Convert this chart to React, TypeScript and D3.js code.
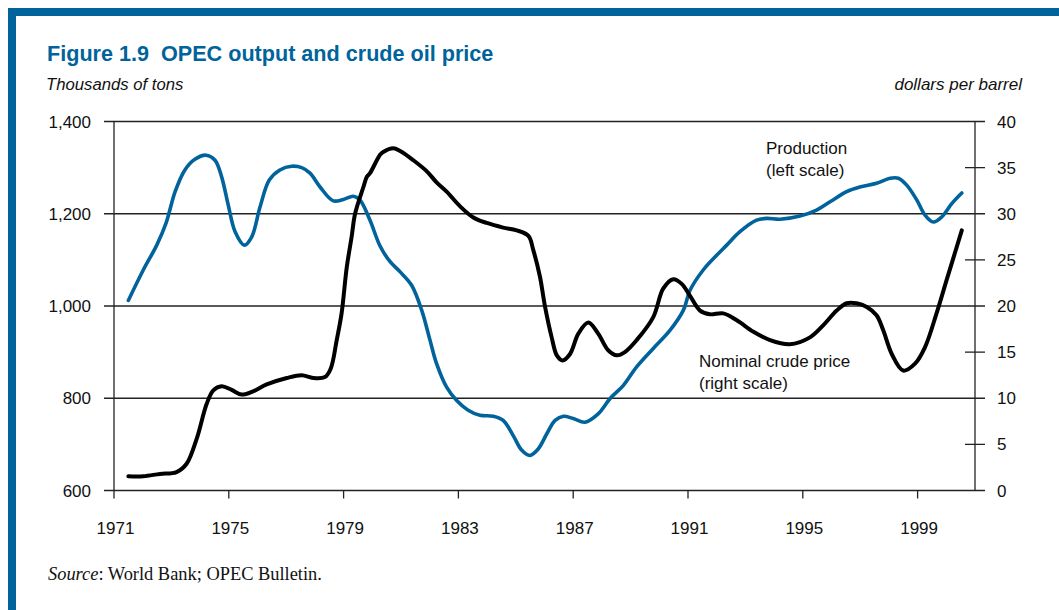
import React, { useEffect, useRef } from "react";
import * as d3 from "d3";

// OPEC production (thousands of tons), left scale
const prodYears = [
  1971.5, 1972.02, 1972.49, 1972.81, 1973.13, 1973.47, 1973.82, 1974.21, 1974.52, 1974.75,
  1974.98, 1975.22, 1975.54, 1975.8, 1976.09, 1976.41, 1976.78, 1977.19, 1977.54, 1977.83,
  1978.18, 1978.64, 1978.99, 1979.34, 1979.57, 1979.92, 1980.27, 1980.62, 1980.97, 1981.37,
  1981.72, 1982.01, 1982.24, 1982.59, 1982.94, 1983.34, 1983.75, 1984.22, 1984.56, 1984.91,
  1985.21, 1985.49, 1985.78, 1986.08, 1986.37, 1986.66, 1987.0, 1987.41, 1987.87, 1988.28,
  1988.75, 1989.21, 1989.79, 1990.37, 1990.84, 1991.07, 1991.53, 1992.0, 1992.35, 1992.81,
  1993.39, 1993.74, 1994.21, 1994.9, 1995.48, 1995.95, 1996.53, 1996.99, 1997.57, 1998.04,
  1998.33, 1998.62, 1998.97, 1999.26, 1999.55, 1999.84, 2000.19, 2000.54,
];
const production = [
  1012, 1078, 1132, 1179, 1248, 1295, 1318, 1327, 1316, 1280,
  1219, 1161, 1132, 1150, 1215, 1273, 1295, 1303, 1300, 1288,
  1258, 1228, 1231, 1238, 1230, 1186, 1130, 1096, 1074, 1045,
  991, 926, 875, 824, 795, 774, 763, 761, 752, 719,
  687, 676, 690, 723, 752, 761, 756, 748, 766, 799,
  828, 868, 908, 947, 991, 1034, 1078, 1110, 1132, 1161,
  1186, 1190, 1188, 1195, 1208, 1226, 1248, 1258, 1266, 1277,
  1277, 1262, 1230, 1197, 1182, 1193, 1222, 1245,
];

// Nominal crude price (dollars per barrel), right scale
const priceYears = [
  1971.5, 1972.02, 1972.6, 1973.18, 1973.53, 1973.88, 1974.23, 1974.46, 1974.75, 1975.1,
  1975.45, 1975.85, 1976.32, 1977.02, 1977.54, 1977.94, 1978.35, 1978.55, 1978.76, 1978.93,
  1979.11, 1979.28, 1979.4, 1979.69, 1979.81, 1979.92, 1980.27, 1980.38, 1980.73, 1980.97,
  1981.43, 1981.9, 1982.24, 1982.59, 1983.06, 1983.52, 1983.99, 1984.56, 1985.03, 1985.44,
  1985.61, 1985.84, 1986.02, 1986.25, 1986.43, 1986.63, 1986.89, 1987.18, 1987.53, 1987.87,
  1988.22, 1988.52, 1988.8, 1989.21, 1989.79, 1990.14, 1990.49, 1990.78, 1991.07, 1991.42,
  1991.76, 1992.23, 1992.7, 1993.28, 1993.86, 1994.55, 1995.25, 1995.71, 1996.18, 1996.53,
  1996.87, 1997.23, 1997.57, 1997.8, 1998.1, 1998.5, 1998.91, 1999.26, 1999.66, 2000.01,
  2000.54,
];
const price = [
  1.55, 1.55, 1.8, 2.0, 2.9, 5.6, 9.4, 10.85, 11.3, 10.9,
  10.4, 10.75, 11.5, 12.2, 12.5, 12.2, 12.3, 13.2, 16.3, 19.2,
  24.2, 27.5, 30.0, 32.9, 34.0, 34.4, 36.4, 36.7, 37.1, 36.8,
  35.8, 34.6, 33.4, 32.4, 30.8, 29.6, 29.0, 28.5, 28.2, 27.6,
  26.05, 23.2, 19.9, 16.6, 14.65, 14.1, 14.8, 17.0, 18.2, 17.0,
  15.2, 14.65, 15.0, 16.3, 18.8, 21.9, 22.9, 22.4, 21.1, 19.5,
  19.1, 19.2, 18.45, 17.2, 16.3, 15.85, 16.6, 17.9, 19.5, 20.3,
  20.3, 19.9, 19.0, 17.4, 14.8, 13.0, 13.75, 15.55, 19.2, 22.8,
  28.2,
];

const yearTicks = [1971, 1975, 1979, 1983, 1987, 1991, 1995, 1999];
const leftTicks = [600, 800, 1000, 1200, 1400];
const rightTicks = [0, 5, 10, 15, 20, 25, 30, 35, 40];

const BLUE = "#00639b";
const SANS = "Arial, 'Liberation Sans', Helvetica, sans-serif";

export default function App() {
  const ref = useRef<SVGSVGElement>(null);

  useEffect(() => {
    const width = 1059;
    const height = 610;
    const margin = { top: 121.5, right: 84, bottom: 119.5, left: 114 };

    const x = d3.scaleLinear().domain([1971, 2001]).range([margin.left, width - margin.right]);
    const yL = d3.scaleLinear().domain([600, 1400]).range([height - margin.bottom, margin.top]);
    const yR = d3.scaleLinear().domain([0, 40]).range([height - margin.bottom, margin.top]);

    const svg = d3.select(ref.current);
    svg.selectAll("*").remove();
    svg.attr("width", width).attr("height", height).attr("viewBox", [0, 0, width, height]);

    // frame
    svg.append("rect").attr("x", 8).attr("y", 8).attr("width", width - 8).attr("height", 8).attr("fill", BLUE);
    svg.append("rect").attr("x", 8).attr("y", 8).attr("width", 8).attr("height", height - 8).attr("fill", BLUE);

    // titles
    svg.append("text").attr("x", 47).attr("y", 61)
      .attr("font-family", SANS).attr("font-size", 21.6).attr("font-weight", "bold").attr("fill", BLUE)
      .attr("xml:space", "preserve")
      .text("Figure 1.9  OPEC output and crude oil price");
    svg.append("text").attr("x", 46).attr("y", 90)
      .attr("font-family", SANS).attr("font-size", 16.7).attr("font-style", "italic").attr("fill", "#111")
      .text("Thousands of tons");
    svg.append("text").attr("x", 1022).attr("y", 90).attr("text-anchor", "end")
      .attr("font-family", SANS).attr("font-size", 17).attr("font-style", "italic").attr("fill", "#111")
      .text("dollars per barrel");

    const xR = x.range()[1];

    // gridlines with left ticks
    const grid = svg.append("g").attr("stroke", "#222").attr("stroke-width", 1.3);
    grid.selectAll("line.h").data(leftTicks).join("line")
      .attr("x1", margin.left - 10).attr("x2", xR + 10)
      .attr("y1", (d) => yL(d)).attr("y2", (d) => yL(d));
    // right minor ticks
    grid.selectAll("line.r").data(rightTicks.filter((d) => d % 10 !== 0)).join("line")
      .attr("class", "r")
      .attr("x1", xR - 10).attr("x2", xR + 10)
      .attr("y1", (d) => yR(d)).attr("y2", (d) => yR(d));
    // axis lines
    grid.append("line").attr("x1", margin.left).attr("x2", margin.left)
      .attr("y1", yL(1400)).attr("y2", yL(600) + 8);
    grid.append("line").attr("x1", xR).attr("x2", xR)
      .attr("y1", yR(40)).attr("y2", yR(0));
    grid.selectAll("line.x").data(yearTicks.slice(1)).join("line")
      .attr("class", "x")
      .attr("x1", (d) => x(d)).attr("x2", (d) => x(d))
      .attr("y1", yL(600)).attr("y2", yL(600) + 8);

    const labels = svg.append("g").attr("font-family", SANS).attr("font-size", 17).attr("fill", "#111");
    labels.selectAll("text.l").data(leftTicks).join("text")
      .attr("class", "l")
      .attr("x", 91).attr("y", (d) => yL(d) + 6).attr("text-anchor", "end")
      .text((d) => d3.format(",")(d));
    labels.selectAll("text.r").data(rightTicks).join("text")
      .attr("class", "r")
      .attr("x", 997).attr("y", (d) => yR(d) + 6)
      .text((d) => String(d));
    labels.selectAll("text.x").data(yearTicks).join("text")
      .attr("class", "x")
      .attr("x", (d) => x(d) + 1.5).attr("y", 534).attr("text-anchor", "middle")
      .text((d) => String(d));

    // series
    const prodLine = d3.line<number>()
      .x((_, i) => x(prodYears[i]))
      .y((d) => yL(d))
      .curve(d3.curveCatmullRom);
    const priceLine = d3.line<number>()
      .x((_, i) => x(priceYears[i]))
      .y((d) => yR(d))
      .curve(d3.curveCatmullRom);

    svg.append("path").datum(production).attr("d", prodLine)
      .attr("fill", "none").attr("stroke", BLUE).attr("stroke-width", 3.6)
      .attr("stroke-linejoin", "round").attr("stroke-linecap", "round");
    svg.append("path").datum(price).attr("d", priceLine)
      .attr("fill", "none").attr("stroke", "#000").attr("stroke-width", 4)
      .attr("stroke-linejoin", "round").attr("stroke-linecap", "round");

    // annotations
    const ann = svg.append("g").attr("font-family", SANS).attr("font-size", 17).attr("fill", "#111");
    ann.append("text").attr("x", 766).attr("y", 154).text("Production");
    ann.append("text").attr("x", 766).attr("y", 176).text("(left scale)");
    ann.append("text").attr("x", 699).attr("y", 367).text("Nominal crude price");
    ann.append("text").attr("x", 699).attr("y", 389).text("(right scale)");

    // source
    const src = svg.append("text").attr("x", 48).attr("y", 580)
      .attr("font-family", "'Liberation Serif', 'Times New Roman', serif").attr("font-size", 18.4).attr("fill", "#111");
    src.append("tspan").attr("font-style", "italic").text("Source");
    src.append("tspan").text(": World Bank; OPEC Bulletin.");
  }, []);

  return <svg ref={ref} style={{ position: "absolute", left: 0, top: 0 }} />;
}
